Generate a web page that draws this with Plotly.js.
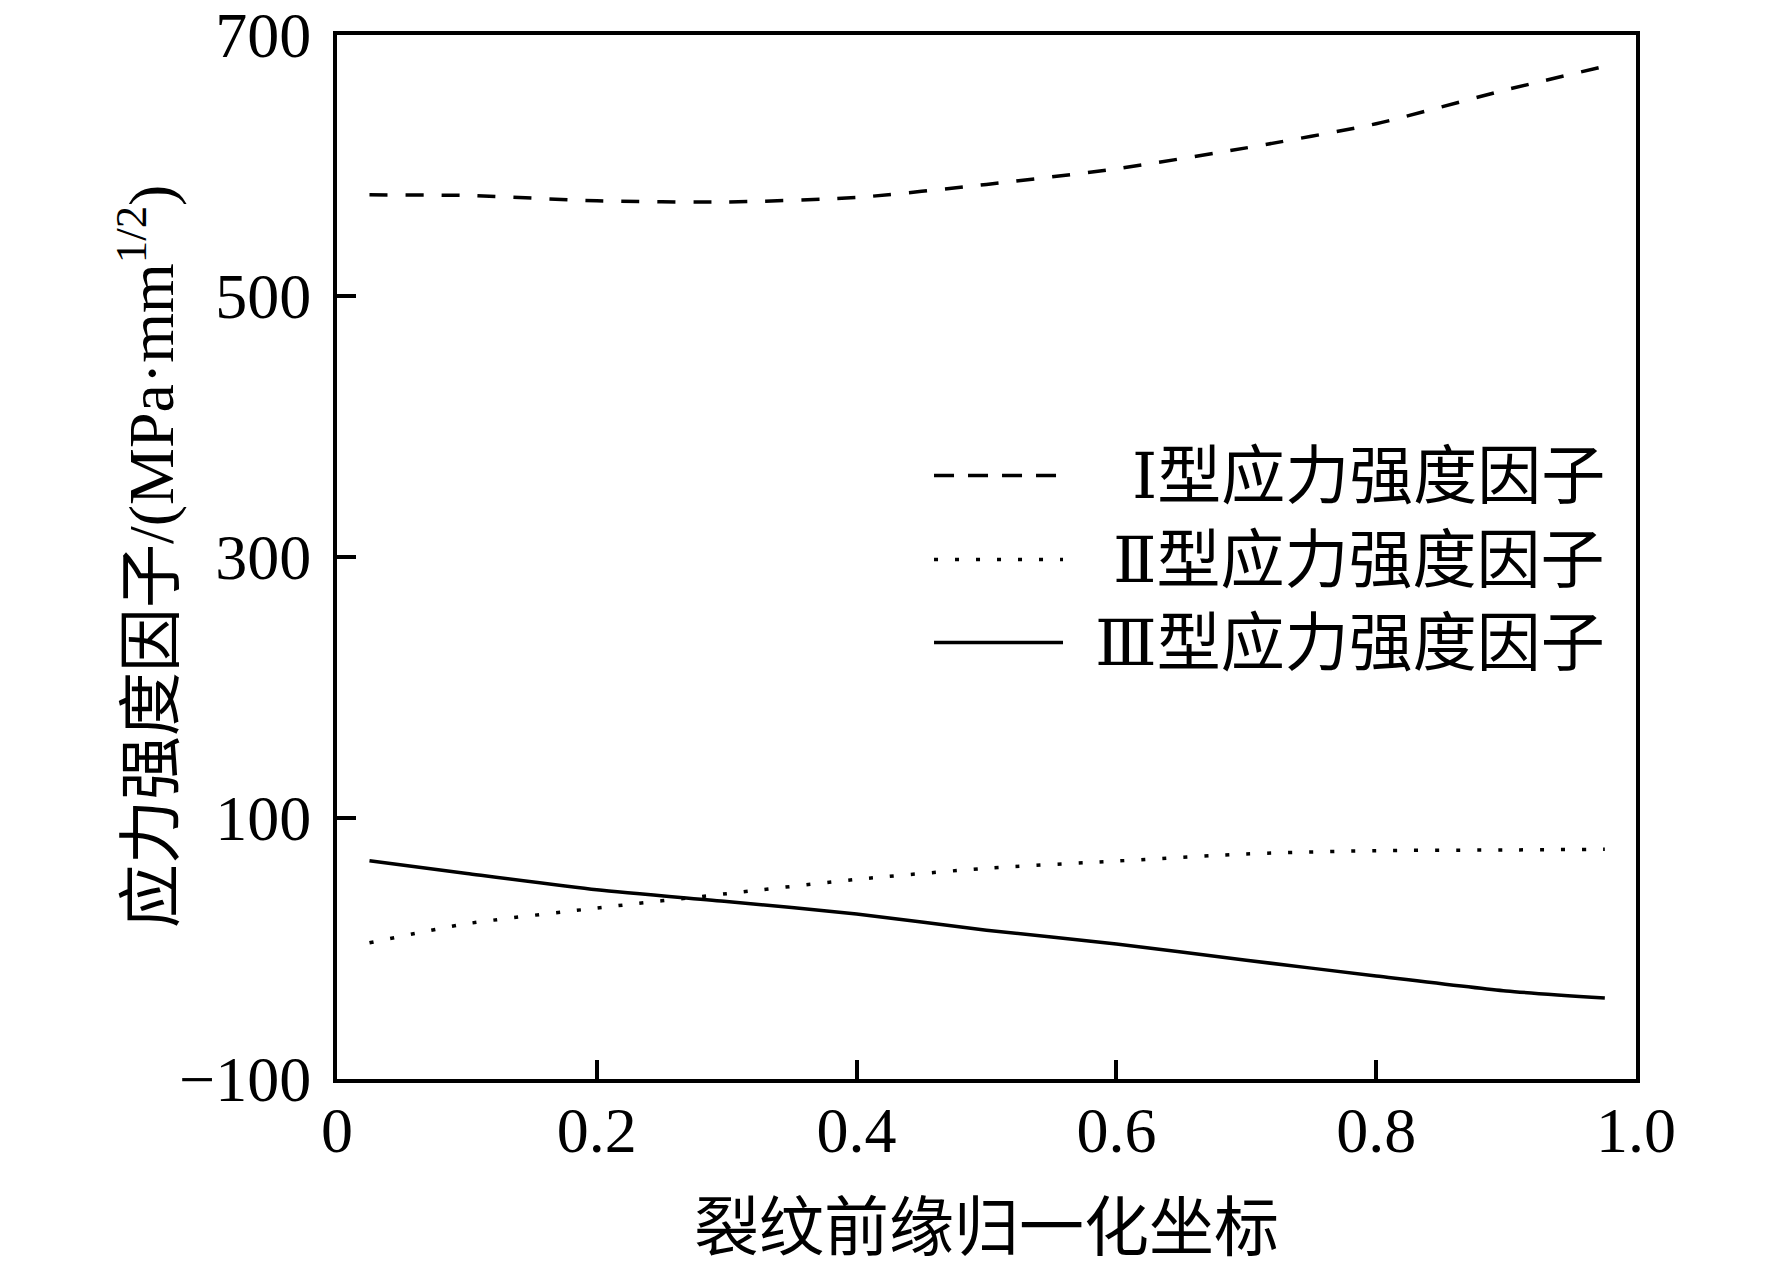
<!DOCTYPE html>
<html>
<head>
<meta charset="utf-8">
<script src="https://cdn.plot.ly/plotly-3.0.1.min.js"></script>
<style>html,body{margin:0;padding:0;background:#fff;}#chart{width:1772px;height:1264px;}</style>
</head>
<body>
<div id="chart"></div>
<script>
// Normalized crack-front coordinate
const xValues = [0.025, 0.1, 0.2, 0.3, 0.4, 0.5, 0.6, 0.7, 0.8, 0.9, 0.976];
// Mode I stress intensity factor
const kI = [577.5, 577, 573, 572, 575.5, 585.5, 597.5, 613.5, 632, 658, 676];
// Mode II stress intensity factor
const kII = [4.4, 19, 31, 42, 53, 61.5, 67, 72.5, 75, 75.5, 76];
// Mode III stress intensity factor
const kIII = [67.3, 57.5, 45, 36, 26.5, 14, 3.5, -9, -21, -32.5, -38];

const romanLabels = ['Ⅰ', 'Ⅱ', 'Ⅲ'];
const seriesName = '型应力强度因子';
const xTickVals = [0, 0.2, 0.4, 0.6, 0.8, 1.0];
const xTickText = ['0', '0.2', '0.4', '0.6', '0.8', '1.0'];
const yTickVals = [-100, 100, 300, 500, 700];
const xTitle = '裂纹前缘归一化坐标';
const yTitle = '应力强度因子/(MPa·mm<sup>1/2</sup>)';

const FONT = 'Liberation Serif, "Times New Roman", "Noto Sans CJK SC", serif';
const dashes = ['18px,18px', '4px,17px', 'solid'];
const seriesY = [kI, kII, kIII];

const traces = seriesY.map((ys, i) => ({
  x: xValues, y: ys, name: romanLabels[i] + seriesName, type: 'scatter', mode: 'lines',
  line: {color: '#000', width: 3.5, dash: dashes[i], shape: 'spline', smoothing: 0.6},
  showlegend: false, hoverinfo: 'skip'
}));

// custom legend (long line samples as in the original)
const legendRows = [0.578, 0.4976, 0.4181];
const shapes = legendRows.map((ry, i) => ({
  type: 'line', xref: 'paper', yref: 'paper', x0: 0.4596, x1: 0.5589, y0: ry, y1: ry,
  line: {color: '#000', width: 3.5, dash: i === 2 ? 'solid' : (i === 0 ? '20px,14px' : '4px,17px')}
}));
const annotations = legendRows.map((ry, i) => ({
  xref: 'paper', yref: 'paper', x: 0.978, y: ry, xanchor: 'right', yanchor: 'middle',
  text: '<span style="font-family:\'DejaVu Serif\', serif">' + romanLabels[i] + '</span>' + seriesName,
  showarrow: false, font: {family: FONT, size: 64, color: '#000'}
}));
annotations.push({
  xref: 'paper', yref: 'paper', x: -0.147, y: 0.5, xanchor: 'center', yanchor: 'middle',
  textangle: -90, text: yTitle, showarrow: false, font: {family: FONT, size: 64, color: '#000'}
});

const layout = {
  width: 1772, height: 1264,
  margin: {l: 337, r: 136, t: 35, b: 185, pad: 0},
  paper_bgcolor: '#fff', plot_bgcolor: '#fff',
  font: {family: FONT, size: 64, color: '#000'},
  showlegend: false,
  xaxis: {
    range: [0, 1], tickvals: xTickVals, ticktext: xTickText,
    ticks: 'inside', ticklen: 19, tickwidth: 4, tickcolor: '#000',
    showline: true, linewidth: 4, linecolor: '#000', mirror: true,
    showgrid: false, zeroline: false, automargin: false,
    ticklabelstandoff: -8, ticklabeloverflow: 'allow',
    tickfont: {family: FONT, size: 64, color: '#000'},
    title: {text: xTitle, standoff: 44, font: {family: FONT, size: 65, color: '#000'}}
  },
  yaxis: {
    range: [-100, 700], tickvals: yTickVals,
    ticks: 'inside', ticklen: 19, tickwidth: 4, tickcolor: '#000',
    showline: true, linewidth: 4, linecolor: '#000', mirror: true,
    showgrid: false, zeroline: false, automargin: false,
    ticklabelstandoff: 9, ticklabeloverflow: 'allow',
    tickfont: {family: FONT, size: 64, color: '#000'}
  },
  shapes: shapes,
  annotations: annotations
};

Plotly.newPlot('chart', traces, layout, {staticPlot: true, displayModeBar: false});
</script>
</body>
</html>
